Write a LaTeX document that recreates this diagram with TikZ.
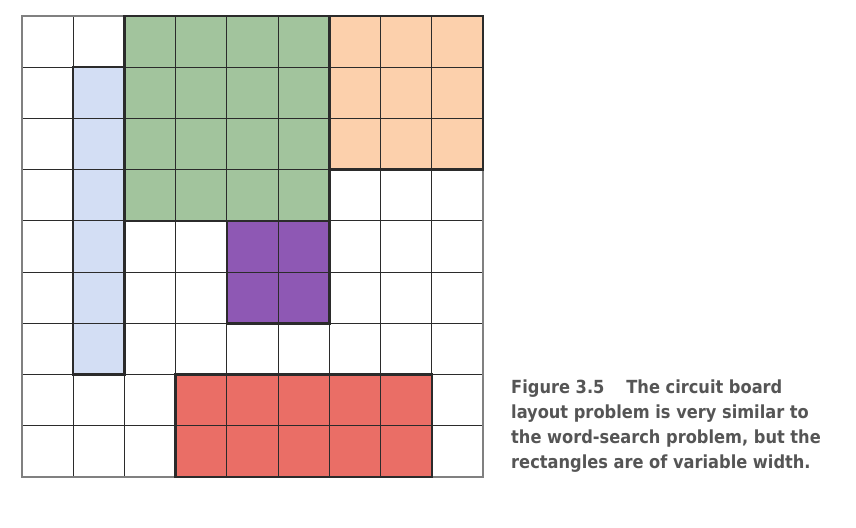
\documentclass[tikz,border=0pt]{standalone}
\usepackage{fontspec}
\setmainfont{DejaVu Sans Condensed}
\usepackage{tikz}

\definecolor{boardgreen}{HTML}{A2C49D}
\definecolor{boardorange}{HTML}{FCD0AC}
\definecolor{boardblue}{HTML}{D3DEF4}
\definecolor{boardpurple}{HTML}{8E58B4}
\definecolor{boardred}{HTML}{EA6E66}
\definecolor{gridline}{HTML}{2B2B2B}
\definecolor{gridedge}{HTML}{808080}
\definecolor{captiongray}{HTML}{555555}

\begin{document}
\begin{tikzpicture}[x=0.03cm,y=0.03cm]
    \tikzstyle{cell line}=[gridline, line width=1pt]
    \tikzstyle{board edge}=[gridedge, line width=1.4pt]
    \tikzstyle{chip edge}=[gridline, line width=2pt]
    \useasboundingbox (0,0) rectangle (856,528);
    \begin{scope}[shift={(22,512)}, x=1.5366cm, y=-1.5366cm]
    % chips
    \fill [boardgreen]  (2,0) rectangle (6,4);
    \fill [boardorange] (6,0) rectangle (9,3);
    \fill [boardblue]   (1,1) rectangle (2,7);
    \fill [boardpurple] (4,4) rectangle (6,6);
    \fill [boardred]    (3,7) rectangle (8,9);
    % grid
    \foreach \i in {1,...,8} {
        \draw [cell line] (\i,0) -- (\i,9);
        \draw [cell line] (0,\i) -- (9,\i);
    }
    \draw [board edge] (0,0) rectangle (9,9);
    % chip outlines
    \draw [chip edge] (2,0) rectangle (6,4);
    \draw [chip edge] (6,0) rectangle (9,3);
    \draw [chip edge] (1,1) rectangle (2,7);
    \draw [chip edge] (4,4) rectangle (6,6);
    \draw [chip edge] (3,7) rectangle (8,9);
    \end{scope}
    \node (caption) [anchor=north west, inner sep=0pt, align=left,
        text=captiongray, font=\fontsize{15.4}{21.3}\selectfont\bfseries]
        at (511,148)
        {Figure 3.5\hspace{0.9em} The circuit board\\
         layout problem is very similar to\\
         the word-search problem, but the\\
         rectangles are of variable width.};
\end{tikzpicture}
\end{document}
